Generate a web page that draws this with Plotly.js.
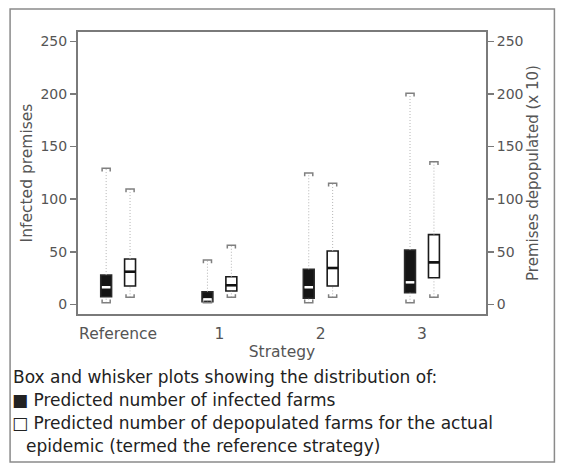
<!DOCTYPE html>
<html>
<head>
<meta charset="utf-8">
<script src="https://cdn.plot.ly/plotly-3.0.1.min.js"></script>
<style>html,body{margin:0;padding:0;background:#fff;}#chart{width:563px;height:470px;}</style>
</head>
<body>
<div id="chart"></div>
<script>
// Categories (strategies)
var categories = ['Reference', '1', '2', '3'];

// Predicted number of infected farms (left axis)
var infLower  = [1.6, 1.6, 1.6, 1.6];
var infQ1     = [7.3, 2.5, 5.8, 11.1];
var infMedian = [16.3, 4.8, 16.3, 21.0];
var infQ3     = [27.9, 12.1, 33.4, 51.7];
var infUpper  = [129.4, 42.2, 124.9, 200.7];

// Predicted number of depopulated farms, x10 (right axis)
var depLower  = [6.7, 6.7, 6.7, 6.7];
var depQ1     = [17.5, 12.7, 17.5, 25.4];
var depMedian = [31.1, 18.2, 34.6, 40.0];
var depQ3     = [43.2, 26.3, 50.8, 66.3];
var depUpper  = [109.7, 56.2, 115.1, 135.6];

var yTicks = [0, 50, 100, 150, 200, 250];

// ---- layout helpers ----
var OFF = 0.118, BW = 0.108, CAP = 0.04, CAPD = 3;
var FONT = 'DejaVu Sans, sans-serif';
var L = 78, R = 486.5, T = 32, B = 314;
function px(x){ return (x - L) / (R - L); }
function py(y){ return (B - y) / (B - T); }

function pos(off){ return categories.map(function(c, i){ return i + off; }); }

function whiskers(xs, lo, q1, q3, hi){
  var x = [], y = [];
  xs.forEach(function(p, i){
    x.push(p, p, null, p, p, null);
    y.push(q3[i], hi[i], null, lo[i], q1[i], null);
  });
  return {x: x, y: y};
}
function caps(xs, lo, hi){
  var x = [], y = [];
  xs.forEach(function(p, i){
    x.push(p - CAP, p - CAP, p + CAP, p + CAP, null);
    y.push(hi[i] - CAPD, hi[i], hi[i], hi[i] - CAPD, null);
    x.push(p - CAP, p - CAP, p + CAP, p + CAP, null);
    y.push(lo[i] + CAPD, lo[i], lo[i], lo[i] + CAPD, null);
  });
  return {x: x, y: y};
}
function medians(xs, med, half){
  var x = [], y = [];
  xs.forEach(function(p, i){
    x.push(p - half, p + half, null);
    y.push(med[i], med[i], null);
  });
  return {x: x, y: y};
}

var xInf = pos(-OFF), xDep = pos(OFF);
var wInf = whiskers(xInf, infLower, infQ1, infQ3, infUpper);
var wDep = whiskers(xDep, depLower, depQ1, depQ3, depUpper);
var cInf = caps(xInf, infLower, infUpper);
var cDep = caps(xDep, depLower, depUpper);
var mInf = medians(xInf, infMedian, BW / 2 - 0.012);
var mDep = medians(xDep, depMedian, BW / 2);

var traces = [
  {type: 'scatter', mode: 'lines', x: wInf.x, y: wInf.y, line: {color: '#b4b4b4', width: 1, dash: '1px,2px'}, hoverinfo: 'skip', showlegend: false},
  {type: 'scatter', mode: 'lines', x: wDep.x, y: wDep.y, yaxis: 'y2', line: {color: '#b4b4b4', width: 1, dash: '1px,2px'}, hoverinfo: 'skip', showlegend: false},
  {type: 'scatter', mode: 'lines', x: cInf.x, y: cInf.y, line: {color: '#808080', width: 1.5}, hoverinfo: 'skip', showlegend: false},
  {type: 'scatter', mode: 'lines', x: cDep.x, y: cDep.y, yaxis: 'y2', line: {color: '#808080', width: 1.5}, hoverinfo: 'skip', showlegend: false},
  {type: 'box', name: 'Infected', x: xInf, q1: infQ1, median: infMedian, q3: infQ3,
   lowerfence: infQ1, upperfence: infQ3, width: BW, whiskerwidth: 0,
   fillcolor: '#151515', line: {color: '#2a2a2a', width: 1.5}, showlegend: false},
  {type: 'box', name: 'Depopulated', x: xDep, q1: depQ1, median: depMedian, q3: depQ3,
   lowerfence: depQ1, upperfence: depQ3, width: BW, whiskerwidth: 0, yaxis: 'y2',
   fillcolor: '#ffffff', line: {color: '#1a1a1a', width: 1.6}, showlegend: false},
  {type: 'scatter', mode: 'lines', x: mInf.x, y: mInf.y, line: {color: '#ffffff', width: 2.5}, hoverinfo: 'skip', showlegend: false},
  {type: 'scatter', mode: 'lines', x: mDep.x, y: mDep.y, yaxis: 'y2', line: {color: '#111111', width: 2.6}, hoverinfo: 'skip', showlegend: false}
];

var yRange = [-9.1, 258.9];
var axisGray = '#7a7a7a';
var tickFont = {family: FONT, size: 14, color: '#555555'};

var captionFont = {family: FONT, size: 17, color: '#222222'};
var captions = [
  {t: 'Box and whisker plots showing the distribution of:', x: 11, y: 377},
  {t: '\u25A0 Predicted number of infected farms', x: 10, y: 400},
  {t: '\u25A1 Predicted number of depopulated farms for the actual', x: 10, y: 423},
  {t: 'epidemic (termed the reference strategy)', x: 24, y: 446}
];

var layout = {
  width: 563, height: 470,
  margin: {l: L, r: 563 - R, t: T, b: 470 - B},
  paper_bgcolor: '#ffffff', plot_bgcolor: '#ffffff',
  showlegend: false,
  boxmode: 'overlay',
  font: {family: FONT, color: '#555555'},
  xaxis: {
    range: [-0.396, 3.632],
    tickvals: [0, 1, 2, 3], ticktext: categories,
    tickfont: {family: FONT, size: 15.5, color: '#555555'},
    ticks: '', ticklabelstandoff: 4,
    showline: true, mirror: true, linecolor: axisGray, linewidth: 2,
    showgrid: false, zeroline: false,
    title: {text: 'Strategy', font: {family: FONT, size: 15.5, color: '#555555'}, standoff: 5}
  },
  yaxis: {
    range: yRange, tickvals: yTicks, tickfont: tickFont,
    ticks: 'outside', ticklen: 6, tickcolor: axisGray, tickwidth: 1.5,
    showline: true, linecolor: axisGray, linewidth: 2,
    showgrid: false, zeroline: false,
    title: {text: 'Infected premises', font: {family: FONT, size: 15.5, color: '#555555'}, standoff: 4}
  },
  yaxis2: {
    range: yRange, tickvals: yTicks, tickfont: tickFont,
    overlaying: 'y', side: 'right',
    ticks: 'outside', ticklen: 6, tickcolor: axisGray, tickwidth: 1.5,
    showline: true, linecolor: axisGray, linewidth: 2,
    showgrid: false, zeroline: false,
    title: {text: 'Premises depopulated (x 10)', font: {family: FONT, size: 15, color: '#555555'}, standoff: 4}
  },
  shapes: [{
    type: 'rect', xref: 'paper', yref: 'paper',
    x0: px(10), x1: px(555), y0: py(462), y1: py(9),
    line: {color: '#8a8a8a', width: 1.5}, fillcolor: 'rgba(0,0,0,0)', layer: 'below'
  }],
  annotations: captions.map(function(c){
    return {text: c.t, xref: 'paper', yref: 'paper', x: px(c.x), y: py(c.y),
            xanchor: 'left', yanchor: 'middle', showarrow: false, font: captionFont};
  })
};

Plotly.newPlot('chart', traces, layout, {displayModeBar: false, staticPlot: true});
</script>
</body>
</html>
